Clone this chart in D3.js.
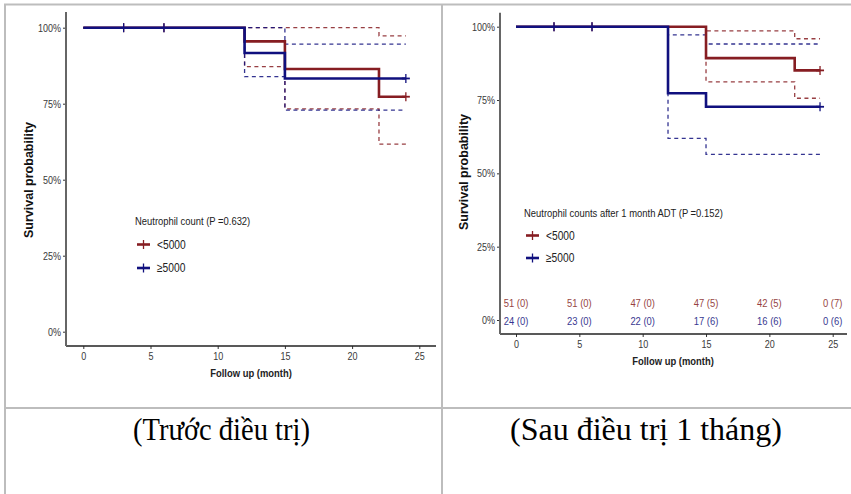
<!DOCTYPE html>
<html>
<head>
<meta charset="utf-8">
<script src="https://cdn.jsdelivr.net/npm/d3@7"></script>
<style>
  body { margin: 0; background: #fff; }
  svg { display: block; }
</style>
</head>
<body>
<svg id="chart" width="851" height="494"></svg>
<script>
// x ticks and y ticks shared by both plots
const monthTicks = [0, 5, 10, 15, 20, 25];
const survTicks = [0, 0.25, 0.5, 0.75, 1];
const endTime = 24;
const censorTimes = [3, 6, 24];

// before treatment (Truoc dieu tri)
const beforeLowTimes = [0, 12, 15, 22];
const beforeLowSurv = [1, 0.955, 0.864, 0.773];
const beforeLowUpper = [1, 1, 1, 0.973];
const beforeLowLower = [1, 0.872, 0.733, 0.617];

const beforeHighTimes = [0, 12, 15];
const beforeHighSurv = [1, 0.917, 0.833];
const beforeHighUpper = [1, 1, 0.946];
const beforeHighLower = [1, 0.839, 0.729];

// after 1 month
const afterLowTimes = [0, 15, 22];
const afterLowSurv = [1, 0.893, 0.851];
const afterLowUpper = [1, 0.986, 0.959];
const afterLowLower = [1, 0.812, 0.756];

const afterHighTimes = [0, 12, 15];
const afterHighSurv = [1, 0.773, 0.727];
const afterHighUpper = [1, 0.972, 0.941];
const afterHighLower = [1, 0.619, 0.565];

// number at risk (censored) for the second plot
const riskLow = ["51 (0)", "51 (0)", "47 (0)", "47 (5)", "42 (5)", "0 (7)"];
const riskHigh = ["24 (0)", "23 (0)", "22 (0)", "17 (6)", "16 (6)", "0 (6)"];

const groupLabels = ["<5000", "\u22655000"];
const captionTexts = ["(Trước điều trị)", "(Sau điều trị 1 tháng)"];

const RED = "#861d22";
const BLUE = "#10107e";
const SANS = "'Liberation Sans', Arial, sans-serif";
const SQUEEZE = 0.82; // the original uses a narrow font

const svg = d3.select("#chart");
svg.append("rect").attr("width", 851).attr("height", 494).attr("fill", "#fff");

// adds a narrow-looking text, squeezed around its anchor point
function narrowText(parent, x, y, txt, size, anchor) {
    return parent.append("text")
        .attr("transform", `translate(${x},${y}) scale(${SQUEEZE},1)`)
        .attr("text-anchor", anchor || "start")
        .attr("dy", "0.35em")
        .style("font-family", SANS)
        .style("font-size", size + "px")
        .text(txt);
}

function drawPlot(opt) {
    const g = svg.append("g");
    const x = d3.scaleLinear().domain([0, 25]).range(opt.xRange);
    const y = d3.scaleLinear().domain([0, 1]).range(opt.yRange);

    const stepLine = d3.line()
        .x(d => x(d[0]))
        .y(d => y(d[1]))
        .curve(d3.curveStepAfter);

    function pts(times, vals) {
        const p = times.map((t, i) => [t, vals[i]]);
        p.push([endTime, vals[vals.length - 1]]);
        return p;
    }

    // confidence bands (dashed)
    opt.groups.forEach(gr => {
        [gr.upper, gr.lower].forEach(vals => {
            g.append("path")
                .attr("d", stepLine(pts(gr.times, vals)))
                .attr("fill", "none")
                .attr("stroke", gr.color)
                .attr("stroke-width", 1.3)
                .attr("stroke-dasharray", "4,3.5")
                .attr("opacity", 0.85);
        });
    });

    // survival curves
    opt.groups.forEach(gr => {
        g.append("path")
            .attr("d", stepLine(pts(gr.times, gr.surv)))
            .attr("fill", "none")
            .attr("stroke", gr.color)
            .attr("stroke-width", 2.6);
        // censor marks
        censorTimes.forEach(t => {
            let s = gr.surv[0];
            gr.times.forEach((tt, i) => { if (tt <= t) s = gr.surv[i]; });
            g.append("line")
                .attr("x1", x(t)).attr("x2", x(t))
                .attr("y1", y(s) - 4.5).attr("y2", y(s) + 4.5)
                .attr("stroke", gr.color)
                .attr("stroke-width", 1.3);
            if (t === endTime) {
                g.append("line")
                    .attr("x1", x(t) - 4).attr("x2", x(t) + 4)
                    .attr("y1", y(s)).attr("y2", y(s))
                    .attr("stroke", gr.color)
                    .attr("stroke-width", 1.8);
            }
        });
    });

    // axes
    const xAxis = g.append("g")
        .attr("transform", `translate(0,${opt.axisY})`)
        .call(d3.axisBottom(x).tickValues(monthTicks).tickSize(3).tickSizeOuter(0).tickPadding(3));
    xAxis.select(".domain").remove();
    xAxis.selectAll("line").attr("stroke", "#333");
    xAxis.selectAll("text")
        .attr("transform", `scale(${SQUEEZE},1)`)
        .style("font-family", SANS).style("font-size", "11px").attr("fill", "#3a3a3a");
    g.append("line")
        .attr("x1", opt.axisX).attr("x2", opt.axisRight)
        .attr("y1", opt.axisY).attr("y2", opt.axisY)
        .attr("stroke", "#222").attr("stroke-width", 1.6);

    const yAxis = g.append("g")
        .attr("transform", `translate(${opt.axisX},0)`)
        .call(d3.axisLeft(y).tickValues(survTicks).tickFormat(d3.format(".0%")).tickSize(3).tickSizeOuter(0).tickPadding(2));
    yAxis.select(".domain").remove();
    yAxis.selectAll("line").attr("stroke", "#333");
    yAxis.selectAll("text")
        .attr("transform", `translate(-5,0) scale(${SQUEEZE},1)`)
        .attr("x", 0)
        .style("font-family", SANS).style("font-size", "11px").attr("fill", "#3a3a3a");
    g.append("line")
        .attr("x1", opt.axisX).attr("x2", opt.axisX)
        .attr("y1", opt.axisTop).attr("y2", opt.axisY)
        .attr("stroke", "#666").attr("stroke-width", 2);

    // axis titles
    narrowText(g, opt.xTitleX, opt.axisY + 27, "Follow up (month)", 11.5, "middle")
        .style("font-weight", "bold").attr("fill", "#222");

    g.append("text")
        .attr("transform", `translate(${opt.yTitleX},${opt.yTitleY}) rotate(-90)`)
        .attr("text-anchor", "middle")
        .style("font-family", SANS).style("font-size", "12.5px").style("font-weight", "bold")
        .attr("fill", "#111")
        .text("Survival probability");

    // legend
    const lg = g.append("g").attr("transform", `translate(${opt.legendX},${opt.legendY})`);
    narrowText(lg, 0, 0, opt.legendTitle, 11.5).attr("fill", "#222");
    opt.groups.forEach((gr, i) => {
        const yy = opt.legendGap * (i + 1);
        lg.append("line").attr("x1", 2).attr("x2", 15).attr("y1", yy).attr("y2", yy)
            .attr("stroke", gr.color).attr("stroke-width", 2.6);
        lg.append("line").attr("x1", 8.5).attr("x2", 8.5).attr("y1", yy - 4.5).attr("y2", yy + 4.5)
            .attr("stroke", gr.color).attr("stroke-width", 1.3);
        narrowText(lg, 22, yy, groupLabels[i], 12.5).attr("fill", "#222");
    });

    // risk table
    if (opt.risk) {
        opt.risk.forEach((row, r) => {
            row.forEach((d, i) => {
                narrowText(g, x(monthTicks[i]), opt.riskY[r], d, 11.5, "middle")
                    .attr("fill", opt.groups[r].color)
                    .attr("opacity", 0.85);
            });
        });
    }
}

drawPlot({
    xRange: [83.3, 419.3], yRange: [331.7, 27.7],
    axisX: 66, axisRight: 436, axisY: 346, axisTop: 12,
    xTitleX: 251, yTitleX: 33, yTitleY: 180,
    legendX: 135, legendY: 221, legendGap: 23.5,
    legendTitle: "Neutrophil count (P =0.632)",
    groups: [
        { times: beforeLowTimes, surv: beforeLowSurv, upper: beforeLowUpper, lower: beforeLowLower, color: RED },
        { times: beforeHighTimes, surv: beforeHighSurv, upper: beforeHighUpper, lower: beforeHighLower, color: BLUE }
    ]
});

drawPlot({
    xRange: [516, 832.7], yRange: [320, 26.7],
    axisX: 500, axisRight: 847, axisY: 334, axisTop: 12.7,
    xTitleX: 673, yTitleX: 468, yTitleY: 172,
    legendX: 524, legendY: 213, legendGap: 22.5,
    legendTitle: "Neutrophil counts after 1 month ADT (P =0.152)",
    risk: [riskLow, riskHigh], riskY: [302.7, 321],
    groups: [
        { times: afterLowTimes, surv: afterLowSurv, upper: afterLowUpper, lower: afterLowLower, color: RED },
        { times: afterHighTimes, surv: afterHighSurv, upper: afterHighUpper, lower: afterHighLower, color: BLUE }
    ]
});

// table borders
const border = svg.append("g").attr("stroke", "#bdbdbd").attr("stroke-width", 2);
border.append("line").attr("x1", 4).attr("x2", 851).attr("y1", 4.5).attr("y2", 4.5);
border.append("line").attr("x1", 5).attr("x2", 5).attr("y1", 4).attr("y2", 494);
border.append("line").attr("x1", 442).attr("x2", 442).attr("y1", 4).attr("y2", 494);
border.append("line").attr("x1", 4).attr("x2", 851).attr("y1", 408).attr("y2", 408);

// captions under each chart (tall, narrow serif)
const captionCx = [221.5, 646];
const captionW = [177, 272];
captionTexts.forEach((t, i) => {
    svg.append("text")
        .attr("x", captionCx[i] - captionW[i] / 2)
        .attr("y", 440)
        .attr("textLength", captionW[i])
        .attr("lengthAdjust", "spacingAndGlyphs")
        .style("font-family", "'Liberation Serif', 'Times New Roman', Times, serif")
        .style("font-size", "31px")
        .attr("fill", "#000")
        .text(t);
});
</script>
</body>
</html>
